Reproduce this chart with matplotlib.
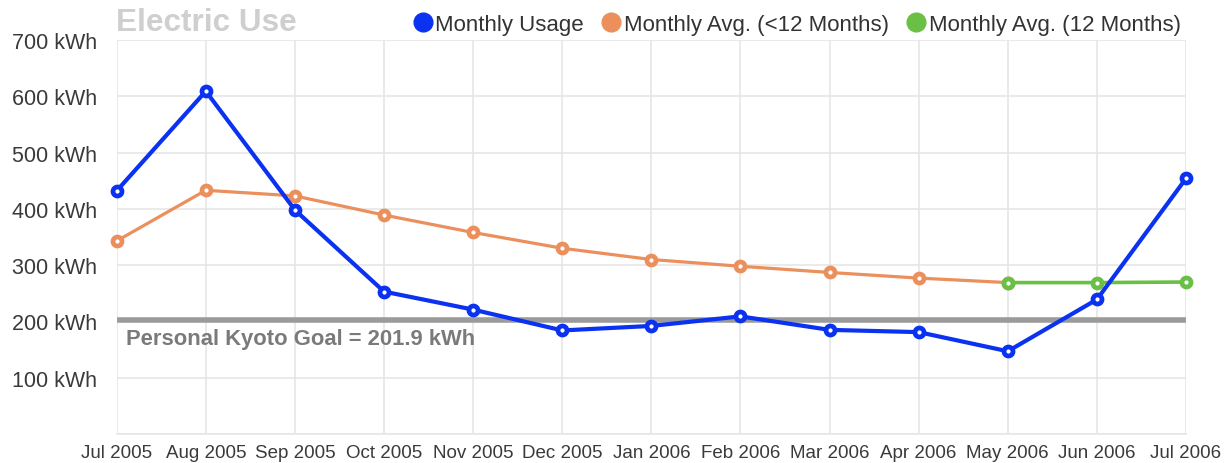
import matplotlib.pyplot as plt
from matplotlib.lines import Line2D
from matplotlib.ticker import FuncFormatter, MultipleLocator

plt.rcParams["font.family"] = ["Liberation Sans", "DejaVu Sans"]

MONTHS = ["Jul 2005", "Aug 2005", "Sep 2005", "Oct 2005", "Nov 2005", "Dec 2005",
          "Jan 2006", "Feb 2006", "Mar 2006", "Apr 2006", "May 2006", "Jun 2006",
          "Jul 2006"]
USAGE = [432, 609, 398, 253, 221, 184, 192, 209, 185, 181, 147, 239, 454]
AVG_PARTIAL = [343, 433, 423, 389, 358, 330, 310, 298, 287, 277, 269]  # Jul 2005 - May 2006
AVG_FULL = [269, 269, 270]  # May 2006 - Jul 2006
GOAL = 201.9

BLUE = "#0a32f0"
ORANGE = "#eb8f5c"
GREEN = "#6abf45"
GRID = "#e6e6e6"

fig = plt.figure(figsize=(12.3, 4.64), dpi=100)
ax = fig.add_axes([116.7 / 1230, 29 / 464, (1186 - 116.7) / 1230, (435 - 41) / 464])

x_all = list(range(len(MONTHS)))
x_partial = x_all[:len(AVG_PARTIAL)]
x_full = x_all[len(AVG_PARTIAL) - 1:]

# goal line under the data
ax.axhline(GOAL, color="#9b9b9b", lw=4.0, solid_capstyle="round", zorder=2)
ax.text(0.1, GOAL - 13, f"Personal Kyoto Goal = {GOAL} kWh", fontsize=15.8,
        fontweight="bold", color="#7a7a7a", ha="left", va="top", zorder=3)

mk = dict(marker="o", markersize=6.5, markeredgewidth=3.4, markerfacecolor="white",
          clip_on=False)
ax.plot(x_partial, AVG_PARTIAL, color=ORANGE, lw=2.3, markeredgecolor=ORANGE, zorder=4, **mk)
ax.plot(x_full, AVG_FULL, color=GREEN, lw=2.6, markeredgecolor=GREEN, zorder=5, **mk)
ax.plot(x_all, USAGE, color=BLUE, lw=3.0, markeredgecolor=BLUE, zorder=6, **mk)

ax.set_xlim(0, len(MONTHS) - 1)
ax.set_ylim(0, 700)
ax.set_xticks(x_all)
ax.set_xticklabels(MONTHS)
ax.yaxis.set_major_locator(MultipleLocator(100))
ax.yaxis.set_major_formatter(FuncFormatter(lambda v, p: f"{int(v)} kWh" if v > 0 else ""))

ax.grid(True, color=GRID, lw=1.2, zorder=0)
ax.set_axisbelow(True)
for side in ["top", "right", "left"]:
    ax.spines[side].set_visible(False)
ax.spines["bottom"].set_color(GRID)
ax.spines["bottom"].set_linewidth(1.2)

ax.tick_params(axis="y", length=0, pad=14, labelsize=15.5, labelcolor="#3a3a3a")
ax.tick_params(axis="x", length=0, pad=7, labelsize=13.5, labelcolor="#3a3a3a")
ax.patch.set_alpha(0)

fig.text(116 / 1230, 1 - 23 / 464, "Electric Use", fontsize=22.7, fontweight="bold",
         color="#cfcfcf", ha="left", va="center")

handles = [
    Line2D([], [], marker="o", linestyle="", color=BLUE, markersize=13.5),
    Line2D([], [], marker="o", linestyle="", color=ORANGE, markersize=13.5),
    Line2D([], [], marker="o", linestyle="", color=GREEN, markersize=13.5),
]
labels = ["Monthly Usage", "Monthly Avg. (<12 Months)", "Monthly Avg. (12 Months)"]
fig.legend(handles, labels, loc="center right", bbox_to_anchor=(1181 / 1230, 1 - 25 / 464),
           ncol=3, frameon=False, fontsize=16, handlelength=0.85, handletextpad=0.15,
           columnspacing=0.8, borderpad=0, borderaxespad=0, labelcolor="#333333")

fig.savefig("out.png", dpi=100, facecolor="white")
